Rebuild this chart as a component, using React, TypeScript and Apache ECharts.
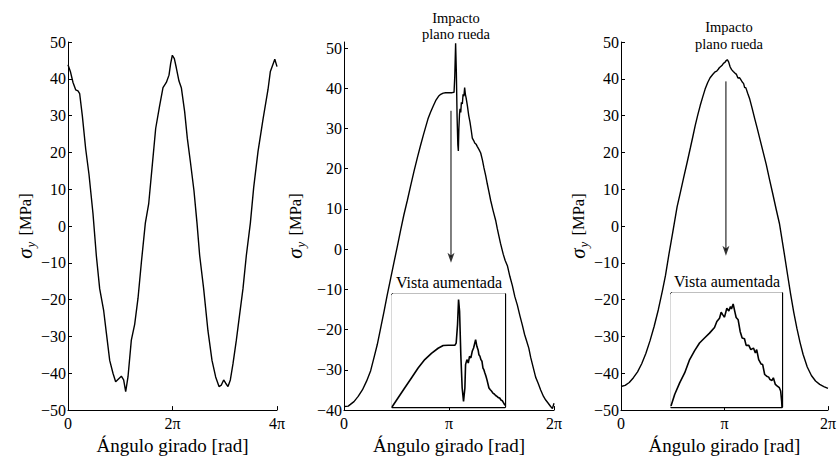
import React, { useEffect, useRef } from 'react';
import * as echarts from 'echarts';

const FONT = 'Liberation Serif';

// Panel 1: angle in multiples of pi, stress in MPa
const p1Angle = [0, 0.045, 0.096, 0.147, 0.191, 0.223, 0.274, 0.338, 0.402, 0.478, 0.542, 0.606, 0.683, 0.734, 0.798, 0.861, 0.912, 0.976, 1.021, 1.065, 1.104, 1.148, 1.212, 1.276, 1.34, 1.404, 1.48, 1.544, 1.614, 1.678, 1.754, 1.818, 1.882, 1.933, 1.965, 1.997, 2.035, 2.073, 2.124, 2.169, 2.233, 2.284, 2.341, 2.411, 2.469, 2.52, 2.596, 2.679, 2.756, 2.826, 2.89, 2.935, 2.979, 3.018, 3.062, 3.107, 3.158, 3.222, 3.285, 3.349, 3.413, 3.49, 3.554, 3.637, 3.732, 3.828, 3.873, 3.92, 3.958, 4.0];
const p1Stress = [43.8, 42, 39, 37, 36.7, 36, 30, 21, 14, 3.4, -8, -17, -23, -29, -36.5, -40, -42.3, -41.4, -40.8, -41.8, -45, -41, -31, -26.7, -19.6, -9.9, 0.8, 6, 16.7, 26.5, 32.7, 37.6, 39, 41, 44.2, 46.4, 45.5, 43, 39.4, 37.6, 31, 23.8, 17.6, 9.6, 0.8, -8, -17, -28.5, -36.5, -41, -43.6, -43.2, -41.8, -42.7, -43.6, -41.8, -37.4, -31, -24, -17, -8, 0.8, 10.5, 20.3, 29, 37.1, 42, 43.8, 45.3, 43.3];

// Panel 2
const p2Angle = [0, 0.04, 0.095, 0.135, 0.175, 0.215, 0.254, 0.285, 0.317, 0.35, 0.381, 0.41, 0.444, 0.475, 0.508, 0.54, 0.57, 0.603, 0.635, 0.667, 0.7, 0.73, 0.755, 0.778, 0.8, 0.825, 0.85, 0.873, 0.9, 0.921, 0.945, 0.968, 1.0, 1.03, 1.048, 1.055, 1.063, 1.07, 1.077, 1.084, 1.089, 1.094, 1.1, 1.105, 1.112, 1.118, 1.127, 1.134, 1.142, 1.149, 1.156, 1.163, 1.175, 1.188, 1.2, 1.212, 1.222, 1.235, 1.245, 1.258, 1.27, 1.285, 1.302, 1.318, 1.333, 1.35, 1.365, 1.38, 1.397, 1.42, 1.444, 1.46, 1.476, 1.49, 1.517, 1.535, 1.556, 1.58, 1.603, 1.627, 1.651, 1.675, 1.698, 1.72, 1.74, 1.76, 1.778, 1.8, 1.825, 1.85, 1.873, 1.9, 1.921, 1.945, 1.968, 1.985, 2.0];
const p2Stress = [-39.1, -39, -37.9, -36.6, -35, -32.8, -30.2, -27, -23.7, -19.5, -15.5, -11.6, -7.3, -3.4, 0.7, 4.8, 8.5, 12.1, 15.8, 19.4, 22.9, 25.9, 28.3, 30.4, 32.4, 34.1, 35.6, 36.9, 38, 38.5, 38.8, 38.9, 38.9, 38.9, 39, 43, 51.2, 44, 33, 26, 24.4, 30, 33.5, 34.9, 34, 36.5, 36.1, 38.5, 38, 40.2, 38.5, 37.6, 35.7, 33.2, 31.6, 29.5, 27.6, 27, 26.4, 26.1, 25.5, 24.8, 23.9, 22.2, 20.2, 18.2, 16.2, 14.3, 12.1, 9.6, 7.2, 5.1, 3.2, 1.5, -1.3, -2.8, -4.1, -6.8, -9, -11.8, -13.9, -16.5, -18.8, -21.2, -22.9, -24.6, -26.9, -29.2, -31.8, -33.4, -35, -36.6, -37.5, -38.3, -39.1, -39.6, -38.3];

// Panel 3
const p3Angle = [0, 0.04, 0.08, 0.12, 0.16, 0.2, 0.24, 0.28, 0.32, 0.36, 0.4, 0.43, 0.463, 0.5, 0.542, 0.575, 0.606, 0.64, 0.67, 0.695, 0.718, 0.742, 0.766, 0.79, 0.813, 0.838, 0.861, 0.89, 0.91, 0.925, 0.94, 0.95, 0.975, 0.99, 1.005, 1.015, 1.027, 1.04, 1.055, 1.069, 1.085, 1.1, 1.116, 1.13, 1.145, 1.155, 1.17, 1.185, 1.195, 1.206, 1.225, 1.244, 1.268, 1.292, 1.316, 1.34, 1.372, 1.404, 1.435, 1.467, 1.5, 1.531, 1.555, 1.579, 1.61, 1.64, 1.67, 1.7, 1.73, 1.76, 1.8, 1.84, 1.88, 1.92, 1.96, 2.0];
const p3Stress = [-43.6, -43.3, -42.5, -41.2, -39.6, -37.4, -34.6, -31.2, -27.3, -22.8, -17.6, -13.4, -7.7, -1.7, 5.2, 9.3, 13.2, 17.4, 21.2, 24.4, 27.4, 30.2, 32.8, 35.1, 37.2, 39, 40.3, 41.3, 41.9, 42.1, 42.6, 43, 43.6, 44.2, 44.5, 44.9, 45.2, 44.6, 43.2, 42.5, 42, 41.6, 41.2, 40.2, 40.3, 39.9, 39.2, 38.7, 37.6, 37.6, 36, 34.5, 31.9, 29.2, 26.6, 23.9, 20.3, 16.7, 12.7, 8.7, 4.5, 0.7, -3.5, -7.7, -13.3, -18.6, -23.5, -27.8, -31.6, -34.9, -38.3, -40.6, -42.1, -43, -43.6, -44.1];

// Insets ("Vista aumentada"), normalised 0..100 coordinates of the zoomed window
const in2U = [0, 5.3, 11.2, 17.2, 23.1, 29, 34.9, 40.8, 45.3, 49.7, 55.6, 56.8, 58, 58.9, 59.8, 60.9, 62.1, 63.3, 64.5, 65.1, 66.3, 67.5, 68.6, 69.8, 71, 72.2, 74, 75.1, 76.2, 76.9, 77.8, 78.7, 79.6, 80.5, 81.3, 82.2, 83.1, 84, 85.8, 87, 88.2, 89.3, 90.5, 91.7, 92.9, 94.1, 95.3, 96.4, 97.6, 100];
const in2W = [0, 8, 16.8, 25.7, 34.5, 42, 47.5, 52, 54.4, 54.6, 54.6, 56.6, 72.9, 95, 84.7, 46.3, 16.8, 5, 16.8, 37.5, 41.9, 38.9, 44.8, 43.4, 49.3, 52.2, 59.6, 53.7, 50.5, 46.3, 45, 41.9, 40.5, 34.5, 33, 30.1, 27.5, 24.2, 16.8, 15.2, 13.9, 12.3, 11.5, 10.2, 9.4, 8.3, 8, 6.2, 5.6, 1.5];
const in3U = [0, 3.3, 7.8, 12.3, 16.8, 21.3, 25.7, 30.2, 34.7, 39.2, 41.3, 43.7, 45.2, 46.7, 48.2, 50.3, 52.1, 53.6, 54.5, 56, 57.5, 58.7, 60.5, 62.3, 64.1, 66.2, 67.7, 70.1, 71.9, 74.3, 76, 77.2, 79, 81.1, 82.6, 84.4, 86.2, 88, 89.2, 91, 92.2, 94, 95.8, 97.6, 98.8, 99.7, 100];
const in3W = [0.9, 11, 21.2, 29.9, 41.6, 49.4, 56.1, 60.5, 64.8, 69.8, 75, 77.9, 83.1, 80.8, 78.8, 86.6, 84.3, 88.1, 86, 90.4, 83.7, 78.5, 76.5, 66.3, 60.5, 59.9, 54.1, 54.1, 50.3, 51.7, 47.4, 50.3, 41.6, 37.8, 37.2, 28.5, 27, 26.2, 24.1, 23.3, 25.6, 19.8, 18.3, 16.9, 14, 5.2, 0];

// Annotation arrows (angle in multiples of pi, stress in MPa): [x, yStart, yTip]
const arrow2 = [1.019, 34.4, -3.4];
const arrow3 = [1.014, 39.3, -8.1];

const yTicksFull = [-50, -40, -30, -20, -10, 0, 10, 20, 30, 40, 50];
const yTicksP2 = [-40, -30, -20, -10, 0, 10, 20, 30, 40, 50];
const in2XTicks = [13.3, 26.7, 40, 53.3, 66.7, 80, 93.3];
const in2YTicks = [7.4, 24.2, 41, 58.1, 75.2, 92];
const in3XTicks = [12.3, 24.3, 36.2, 49.1, 61.1, 73.1, 85.6, 97.6];
const in3YTicks = [12.5, 29.9, 47.4, 64.8, 82.3];

const zip = (a: number[], b: number[]) => a.map((v, i) => [v, b[i]]);
const fmtPi = (v: number) => (v === 0 ? '0' : v === 1 ? 'π' : `${v}π`);
const fmtNum = (v: number) => (v < 0 ? `\u2212${-v}` : `${v}`);

const BLACK = '#000';

function mainX(gridIndex: number, max: number, interval: number) {
  return {
    type: 'value', gridIndex, min: 0, max, interval,
    axisLine: { show: true, onZero: false, lineStyle: { color: BLACK, width: 1 } },
    axisTick: { show: true, inside: true, length: 4, lineStyle: { color: BLACK, width: 1 } },
    axisLabel: { color: BLACK, fontFamily: FONT, fontSize: 16, margin: 5, formatter: fmtPi },
    splitLine: { show: false },
    name: 'Ángulo girado [rad]', nameLocation: 'middle', nameGap: 18,
    nameTextStyle: { color: BLACK, fontFamily: FONT, fontSize: 19 },
  };
}

function mainY(gridIndex: number, min: number, max: number, ticks: number[], nameGap: number) {
  return {
    type: 'value', gridIndex, min, max,
    axisLine: { show: true, onZero: false, lineStyle: { color: BLACK, width: 1 } },
    axisTick: { show: true, inside: true, length: 4, customValues: ticks, lineStyle: { color: BLACK, width: 1 } },
    axisLabel: { color: BLACK, fontFamily: FONT, fontSize: 16, margin: 2, formatter: fmtNum, customValues: ticks },
    splitLine: { show: false },
    name: '{s|σ}{y|y}{t| [MPa]}', nameLocation: 'middle', nameRotate: 90, nameGap,
    nameTextStyle: {
      rich: {
        s: { fontFamily: FONT, fontStyle: 'italic', fontSize: 21, color: BLACK, lineHeight: 24, verticalAlign: 'middle' },
        y: { fontFamily: FONT, fontStyle: 'italic', fontSize: 13, color: BLACK, lineHeight: 24, verticalAlign: 'bottom', padding: [0, 2, 0, 1] },
        t: { fontFamily: FONT, fontSize: 16.5, color: BLACK, lineHeight: 24, verticalAlign: 'middle' },
      },
    },
  };
}

function insetAxis(gridIndex: number, position: string, ticks: number[]) {
  return {
    type: 'value', gridIndex, position, min: 0, max: 100,
    axisLine: { show: true, onZero: false, lineStyle: { color: BLACK, width: 1.3 } },
    axisTick: { show: true, inside: true, length: 3, customValues: ticks, lineStyle: { color: BLACK, width: 1 } },
    axisLabel: { show: false },
    splitLine: { show: false },
  };
}

const ARROW_HEAD = 'path://M0,0 L3.5,3 L7,0 L3.5,11 Z';

export default function App() {
  const ref = useRef<HTMLDivElement>(null);
  useEffect(() => {
    if (!ref.current) return;
    const chart = echarts.init(ref.current, undefined, { renderer: 'svg' });
    const lineSeries = (xi: number, yi: number, data: number[][], width = 1.4) => ({
      type: 'line', xAxisIndex: xi, yAxisIndex: yi, data, showSymbol: false, symbol: 'none', silent: true,
      lineStyle: { color: BLACK, width }, z: 3,
    });
    const arrowSeries = (xi: number, a: number[]) => [
      { ...lineSeries(xi, xi, [[a[0], a[1]], [a[0], a[2] + 1.5]], 1) },
      {
        type: 'scatter', xAxisIndex: xi, yAxisIndex: xi, data: [[a[0], a[2]]], symbol: ARROW_HEAD,
        symbolSize: [7, 10], symbolOffset: [0, '-50%'], silent: true, itemStyle: { color: BLACK }, z: 4,
      },
    ];
    const textEl = (text: string, x: number, y: number, size: number, lineHeight?: number) => ({
      type: 'text', x, y, silent: true,
      style: {
        text, fill: BLACK, fontFamily: FONT, fontSize: size, align: 'center', verticalAlign: 'middle',
        lineHeight: lineHeight ?? size,
      },
    });
    chart.setOption({
      animation: false,
      backgroundColor: '#fff',
      grid: [
        { left: 68, top: 42, width: 209, height: 375 },
        { left: 344, top: 42, width: 210, height: 375 },
        { left: 621, top: 42, width: 209, height: 375 },
        { left: 392, top: 294, width: 113, height: 113, show: true, backgroundColor: '#fff', borderWidth: 0, z: 5 },
        { left: 671, top: 293, width: 111, height: 114, show: true, backgroundColor: '#fff', borderWidth: 0, z: 5 },
      ],
      xAxis: [
        mainX(0, 4, 2),
        mainX(1, 2, 1),
        mainX(2, 2, 1),
        insetAxis(3, 'bottom', in2XTicks),
        insetAxis(3, 'top', in2XTicks),
        insetAxis(4, 'bottom', in3XTicks),
        insetAxis(4, 'top', in3XTicks),
      ],
      yAxis: [
        mainY(0, -50, 50, yTicksFull, 31),
        mainY(1, -40, 51.5, yTicksP2, 37),
        mainY(2, -50, 50, yTicksFull, 31),
        insetAxis(3, 'left', in2YTicks),
        insetAxis(3, 'right', in2YTicks),
        insetAxis(4, 'left', in3YTicks),
        insetAxis(4, 'right', in3YTicks),
      ],
      series: [
        lineSeries(0, 0, zip(p1Angle, p1Stress)),
        lineSeries(1, 1, zip(p2Angle, p2Stress)),
        lineSeries(2, 2, zip(p3Angle, p3Stress)),
        ...arrowSeries(1, arrow2),
        ...arrowSeries(2, arrow3),
        { ...lineSeries(3, 3, zip(in2U, in2W), 1.6), z: 6 },
        { ...lineSeries(5, 5, zip(in3U, in3W), 1.6), z: 6 },
      ],
      graphic: [
        textEl('Impacto\nplano rueda', 456, 26, 14.5, 16.2),
        textEl('Impacto\nplano rueda', 729, 35.5, 14.5, 16.2),
        textEl('Vista aumentada', 449, 282, 16),
        textEl('Vista aumentada', 727, 281, 16),
      ],
    });
    return () => chart.dispose();
  }, []);
  return <div ref={ref} style={{ position: 'fixed', left: 0, top: 0, width: 839, height: 460 }} />;
}
